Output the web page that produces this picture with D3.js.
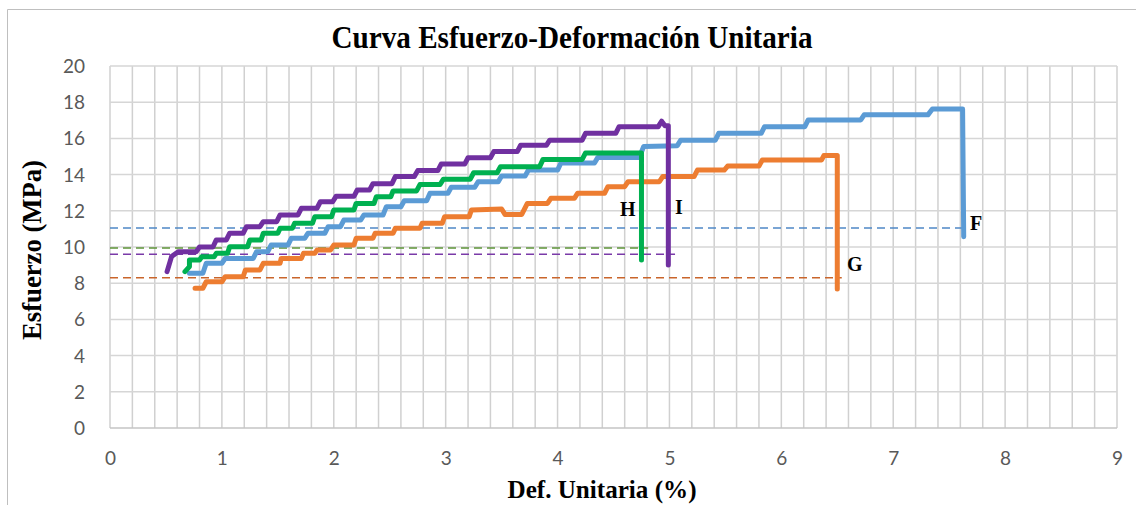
<!DOCTYPE html>
<html>
<head>
<meta charset="utf-8">
<script src="https://cdn.jsdelivr.net/npm/d3@7"></script>
<style>
  body { margin: 0; background: #fff; }
  svg { display: block; }
</style>
</head>
<body>
<div class="chart"></div>
<script>
// ticks
const xTicks = [0, 1, 2, 3, 4, 5, 6, 7, 8, 9];
const yTicks = [0, 2, 4, 6, 8, 10, 12, 14, 16, 18, 20];

// curve F (blue)
const curveF = [[0.71,8.55],[0.83,8.55],[0.86,9.1],[1.0,9.1],[1.03,9.37],[1.28,9.37],[1.31,9.74],[1.41,9.74],
  [1.44,10.11],[1.59,10.11],[1.62,10.48],[1.74,10.48],[1.77,10.76],[1.92,10.76],[1.95,11.12],[2.06,11.12],
  [2.09,11.49],[2.24,11.49],[2.27,11.77],[2.44,11.77],[2.47,12.23],[2.6,12.23],[2.63,12.55],[2.83,12.55],
  [2.86,12.97],[3.02,12.97],[3.05,13.3],[3.26,13.3],[3.29,13.61],[3.47,13.61],[3.5,13.92],[3.71,13.92],
  [3.74,14.25],[4.0,14.25],[4.03,14.64],[4.33,14.64],[4.36,14.95],[4.73,14.95],[4.77,15.55],[5.07,15.6],
  [5.1,15.9],[5.41,15.9],[5.44,16.28],[5.82,16.28],[5.85,16.65],[6.21,16.65],[6.24,17.02],[6.71,17.02],
  [6.74,17.3],[7.31,17.3],[7.35,17.62],[7.62,17.62],[7.63,10.57]];

// curve G (orange)
const curveG = [[0.76,7.72],[0.83,7.72],[0.86,8.08],[1.0,8.08],[1.03,8.36],[1.19,8.36],[1.21,8.73],[1.34,8.73],
  [1.37,9.1],[1.52,9.1],[1.53,9.37],[1.71,9.37],[1.73,9.65],[1.83,9.65],[1.85,9.83],[1.97,9.83],
  [2.0,10.11],[2.18,10.11],[2.2,10.48],[2.35,10.48],[2.37,10.76],[2.53,10.76],[2.55,11.03],[2.77,11.03],
  [2.79,11.31],[2.97,11.31],[2.99,11.67],[3.21,11.67],[3.23,12.04],[3.5,12.1],[3.53,11.8],[3.68,11.8],
  [3.73,12.41],[3.91,12.41],[3.94,12.69],[4.15,12.69],[4.18,12.97],[4.42,12.97],[4.45,13.33],[4.6,13.33],
  [4.63,13.61],[4.91,13.61],[4.94,13.89],[5.22,13.89],[5.25,14.25],[5.49,14.25],[5.52,14.47],[5.8,14.47],
  [5.83,14.81],[6.36,14.81],[6.38,15.05],[6.5,15.05],[6.5,7.68]];

// curve H (green)
const curveH = [[0.67,8.64],[0.71,8.92],[0.71,9.28],[0.8,9.28],[0.82,9.46],[0.93,9.46],[0.95,9.65],[1.05,9.65],
  [1.07,10.02],[1.23,10.02],[1.25,10.39],[1.35,10.39],[1.37,10.76],[1.5,10.76],[1.52,11.03],[1.63,11.03],
  [1.65,11.31],[1.81,11.31],[1.83,11.67],[1.98,11.67],[2.0,12.04],[2.18,12.04],[2.2,12.41],[2.36,12.41],
  [2.38,12.78],[2.51,12.78],[2.53,13.1],[2.74,13.1],[2.77,13.45],[2.95,13.45],[2.98,13.75],[3.22,13.75],
  [3.25,14.1],[3.46,14.1],[3.49,14.44],[3.84,14.44],[3.87,14.84],[4.22,14.84],[4.25,15.2],[4.75,15.2],
  [4.75,9.28]];

// curve I (purple)
const curveI = [[0.51,8.64],[0.55,9.47],[0.61,9.74],[0.77,9.74],[0.8,10.0],[0.92,10.0],[0.95,10.39],[1.04,10.39],
  [1.07,10.76],[1.19,10.76],[1.22,11.12],[1.34,11.12],[1.37,11.4],[1.49,11.4],[1.52,11.77],[1.68,11.77],
  [1.71,12.14],[1.85,12.14],[1.88,12.5],[1.99,12.5],[2.02,12.8],[2.18,12.8],[2.21,13.15],[2.32,13.15],
  [2.35,13.5],[2.52,13.5],[2.55,13.89],[2.72,13.89],[2.75,14.22],[2.93,14.22],[2.96,14.58],[3.17,14.58],
  [3.2,14.93],[3.4,14.93],[3.43,15.27],[3.64,15.27],[3.67,15.62],[3.9,15.62],[3.93,15.9],[4.22,15.9],
  [4.25,16.28],[4.52,16.28],[4.55,16.65],[4.9,16.65],[4.93,16.95],[4.96,16.7],[4.99,16.7],[4.99,9.0]];

// dashed reference lines: [stress, end strain]
const refF = [11.05, 7.62];
const refG = [8.3, 6.54];
const refH = [9.95, 4.81];
const refI = [9.6, 5.05];

const series = [
  { name: 'F', pts: curveF, color: '#5b9bd5', ref: refF, dash: '#4f88c6', lx: 970, ly: 230 },
  { name: 'G', pts: curveG, color: '#ed7d31', ref: refG, dash: '#c9652b', lx: 847, ly: 271 },
  { name: 'H', pts: curveH, color: '#00b050', ref: refH, dash: '#5e9438', lx: 620, ly: 216 },
  { name: 'I', pts: curveI, color: '#7030a0', ref: refI, dash: '#7a3aa8', lx: 675, ly: 214 }
];

const W = 1136, H = 505;
const m = { left: 110, right: 1117, top: 66, bottom: 428 };
const serif = '"Liberation Serif", "Times New Roman", serif';

const svg = d3.select('.chart').append('svg')
  .attr('width', W).attr('height', H);

// outer chart border (cropped on right and bottom)
svg.append('path')
  .attr('d', `M7.5,${H} V9.5 H${W}`)
  .attr('fill', 'none')
  .attr('stroke', '#bfbfbf')
  .attr('stroke-width', 1);

const x = d3.scaleLinear().domain([0, 9]).range([m.left, m.right]);
const y = d3.scaleLinear().domain([0, 20]).range([m.bottom, m.top]);

// grid
const minor = d3.range(0, 9.0001, 0.2);
svg.append('g').selectAll('line').data(minor).join('line')
  .attr('x1', d => x(d)).attr('x2', d => x(d))
  .attr('y1', m.top).attr('y2', m.bottom)
  .attr('stroke', '#d0d0d0').attr('stroke-width', 1.5);
svg.append('g').selectAll('line').data(yTicks).join('line')
  .attr('x1', m.left).attr('x2', m.right)
  .attr('y1', d => y(d)).attr('y2', d => y(d))
  .attr('stroke', d => d === 0 ? '#c4c4c4' : '#d6d6d6').attr('stroke-width', 1.5);

// axes
const xAxis = svg.append('g')
  .attr('transform', `translate(0,${m.bottom + 18})`)
  .call(d3.axisBottom(x).tickValues(xTicks).tickSize(0).tickPadding(5));
const yAxis = svg.append('g')
  .attr('transform', `translate(${m.left - 25},0)`)
  .call(d3.axisLeft(y).tickValues(yTicks).tickSize(0).tickPadding(0));
[xAxis, yAxis].forEach(a => {
  a.select('.domain').remove();
  a.selectAll('text')
    .style('font-family', 'Lato, "Open Sans", sans-serif')
    .style('font-size', '19px')
    .attr('fill', '#595959');
});
yAxis.selectAll('text').attr('dy', '0.34em');
xAxis.selectAll('text').attr('dy', '0.71em');

// dashed reference lines
series.forEach(s => {
  svg.append('line')
    .attr('x1', x(0)).attr('x2', x(s.ref[1]))
    .attr('y1', y(s.ref[0])).attr('y2', y(s.ref[0]))
    .attr('stroke', s.dash)
    .attr('stroke-width', 1.5)
    .attr('stroke-dasharray', '8,5');
});

// curves
const line = d3.line().x(d => x(d[0])).y(d => y(d[1]));
series.forEach(s => {
  svg.append('path')
    .attr('d', line(s.pts))
    .attr('fill', 'none')
    .attr('stroke', s.color)
    .attr('stroke-width', 5)
    .attr('stroke-linejoin', 'round')
    .attr('stroke-linecap', 'round');
  svg.append('text')
    .attr('x', s.lx).attr('y', s.ly)
    .style('font-family', serif)
    .style('font-weight', 'bold')
    .style('font-size', '20px')
    .attr('fill', '#000')
    .text(s.name);
});

// titles
svg.append('text')
  .attr('x', 572).attr('y', 48)
  .attr('text-anchor', 'middle')
  .attr('textLength', 481)
  .attr('lengthAdjust', 'spacingAndGlyphs')
  .style('font-family', serif)
  .style('font-weight', 'bold')
  .style('font-size', '31px')
  .text('Curva Esfuerzo-Deformación Unitaria');

svg.append('text')
  .attr('transform', 'translate(41,250) rotate(-90)')
  .attr('text-anchor', 'middle')
  .attr('textLength', 180)
  .attr('lengthAdjust', 'spacingAndGlyphs')
  .style('font-family', serif)
  .style('font-weight', 'bold')
  .style('font-size', '27px')
  .text('Esfuerzo (MPa)');

svg.append('text')
  .attr('x', 602).attr('y', 498)
  .attr('text-anchor', 'middle')
  .attr('textLength', 189)
  .attr('lengthAdjust', 'spacingAndGlyphs')
  .style('font-family', serif)
  .style('font-weight', 'bold')
  .style('font-size', '25px')
  .text('Def.  Unitaria (%)');
</script>
</body>
</html>
